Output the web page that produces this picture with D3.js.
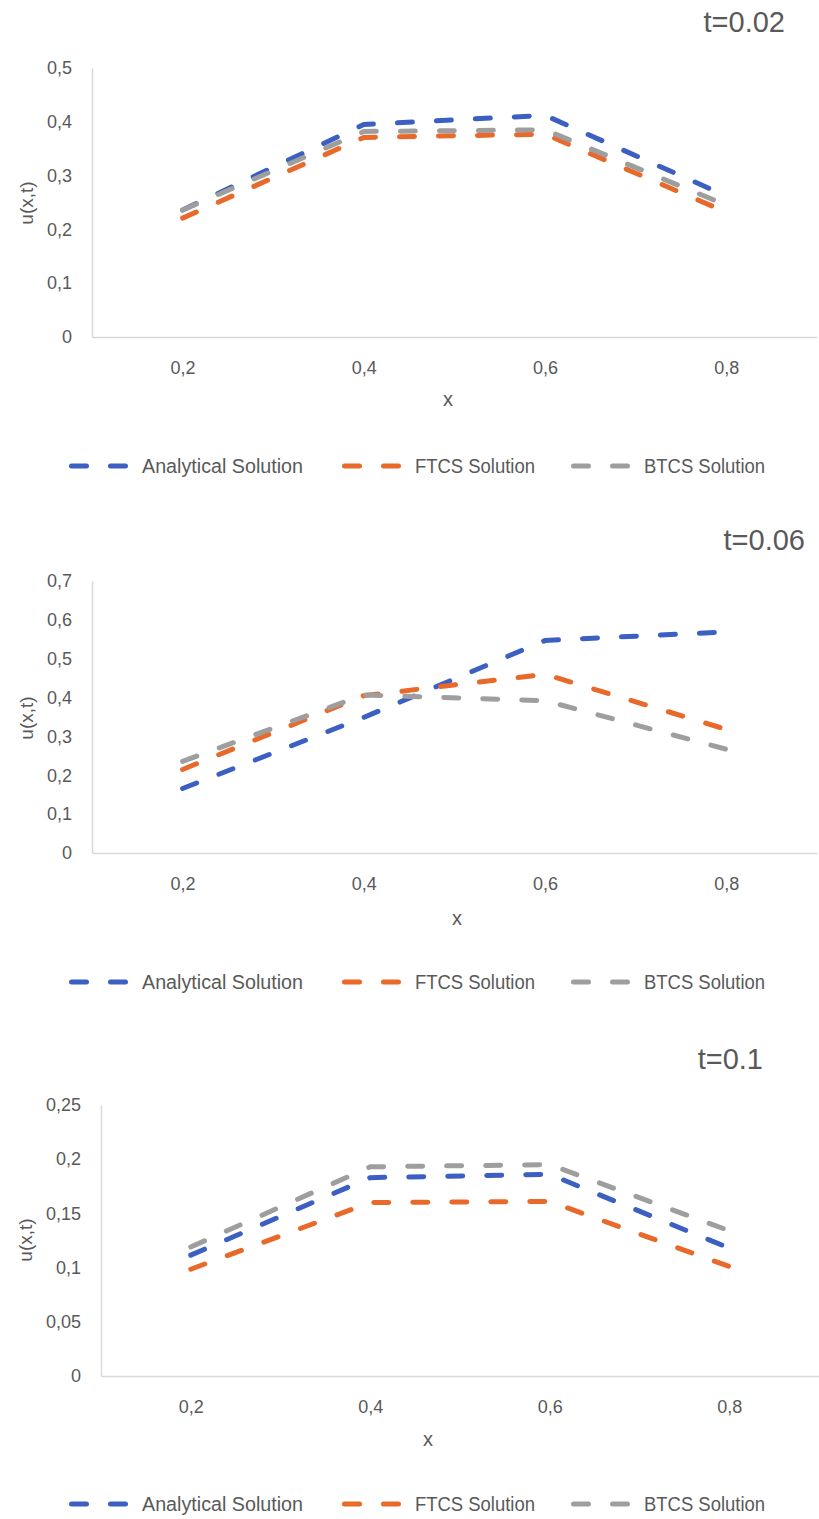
<html>
<head>
<script src="https://cdnjs.cloudflare.com/ajax/libs/d3/7.8.5/d3.min.js"></script>
<style>
  body { margin: 0; background: #fff; }
  svg { display: block; }
  text { font-family: "Liberation Sans", Arial, sans-serif; fill: #595959; }
  .axis path, .axis line { stroke: #d9d9d9; stroke-width: 1.5px; }
  .series { fill: none; stroke-width: 5px; stroke-linecap: round; stroke-dasharray: 15 24; }
</style>
</head>
<body>
<svg width="819" height="1519"></svg>
<script>
// x categories shared by all three charts
var xCats = [0.2, 0.4, 0.6, 0.8];

// t = 0.02
var analytical002 = [0.236, 0.395, 0.412, 0.262];
var ftcs002 = [0.221, 0.371, 0.377, 0.232];
var btcs002 = [0.236, 0.382, 0.385, 0.245];
var yTicks002 = [0, 0.1, 0.2, 0.3, 0.4, 0.5];

// t = 0.06
var analytical006 = [0.166, 0.349, 0.547, 0.569];
var ftcs006 = [0.215, 0.405, 0.460, 0.318];
var btcs006 = [0.236, 0.407, 0.392, 0.267];
var yTicks006 = [0, 0.1, 0.2, 0.3, 0.4, 0.5, 0.6, 0.7];

// t = 0.1
var analytical01 = [0.1115, 0.183, 0.186, 0.118];
var ftcs01 = [0.0985, 0.160, 0.161, 0.101];
var btcs01 = [0.119, 0.193, 0.195, 0.134];
var yTicks01 = [0, 0.05, 0.1, 0.15, 0.2, 0.25];

var seriesNames = ["Analytical Solution", "FTCS Solution", "BTCS Solution"];
var colors = ["#3b5fc2", "#e8692a", "#9e9e9e"];

var svg = d3.select("svg");

var panels = [
  {title: "t=0.02", series: [analytical002, ftcs002, btcs002], ticks: yTicks002,
   left: 92, right: 817, top: 68, bottom: 337, titleX: 785, titleY: 32,
   xLabelX: 448, xLabelY: 406, yLabelX: 33, yLabelY: 203, legendY: 466},
  {title: "t=0.06", series: [analytical006, ftcs006, btcs006], ticks: yTicks006,
   left: 92, right: 817, top: 581, bottom: 853, titleX: 805, titleY: 550,
   xLabelX: 457, xLabelY: 925, yLabelX: 33, yLabelY: 718, legendY: 982},
  {title: "t=0.1", series: [analytical01, ftcs01, btcs01], ticks: yTicks01,
   left: 101, right: 819, top: 1105, bottom: 1376, titleX: 763, titleY: 1069,
   xLabelX: 428, xLabelY: 1446, yLabelX: 32, yLabelY: 1240, legendY: 1504}
];

var fmt = function(d){ return String(d).replace(".", ","); };

panels.forEach(function(p){
  var x = d3.scalePoint().domain(xCats).range([p.left, p.right]).padding(0.5);
  var y = d3.scaleLinear().domain([0, d3.max(p.ticks)]).range([p.bottom, p.top]);

  var xAxis = svg.append("g").attr("class", "axis")
    .attr("transform", "translate(0," + p.bottom + ")")
    .call(d3.axisBottom(x).tickSize(0).tickPadding(24).tickFormat(fmt));
  xAxis.selectAll("text").style("font-size", "18px").attr("fill", "#595959");

  var yAxis = svg.append("g").attr("class", "axis")
    .attr("transform", "translate(" + p.left + ",0)")
    .call(d3.axisLeft(y).tickValues(p.ticks).tickSize(0).tickPadding(20).tickFormat(fmt));
  yAxis.selectAll("text").style("font-size", "18px").attr("fill", "#595959");

  var line = d3.line().x(function(d, i){ return x(xCats[i]); }).y(function(d){ return y(d); });
  p.series.forEach(function(s, k){
    svg.append("path").attr("class", "series")
      .attr("stroke", colors[k])
      .attr("d", line(s));
  });

  var title = svg.append("text").attr("x", p.titleX).attr("y", p.titleY)
    .attr("text-anchor", "end").style("font-size", "29px").attr("fill", "#404040")
    .text(p.title);

  svg.append("text").attr("x", p.xLabelX).attr("y", p.xLabelY)
    .attr("text-anchor", "middle").style("font-size", "20px")
    .text("x");

  svg.append("text")
    .attr("transform", "translate(" + p.yLabelX + "," + p.yLabelY + ") rotate(-90)")
    .attr("text-anchor", "middle").style("font-size", "19px")
    .text("u(x,t)");

  var legendX = [69, 342, 571];
  var legendW = [161, 120, 121];
  seriesNames.forEach(function(name, k){
    var g = svg.append("g").attr("transform", "translate(" + legendX[k] + "," + p.legendY + ")");
    g.append("line").attr("class", "series").attr("stroke", colors[k])
      .attr("x1", 2.5).attr("x2", 59).attr("y1", 0).attr("y2", 0);
    g.append("text").attr("x", 73).attr("y", 7).style("font-size", "20px")
      .attr("textLength", legendW[k]).attr("lengthAdjust", "spacingAndGlyphs")
      .text(name);
  });
});
</script>
</body>
</html>
